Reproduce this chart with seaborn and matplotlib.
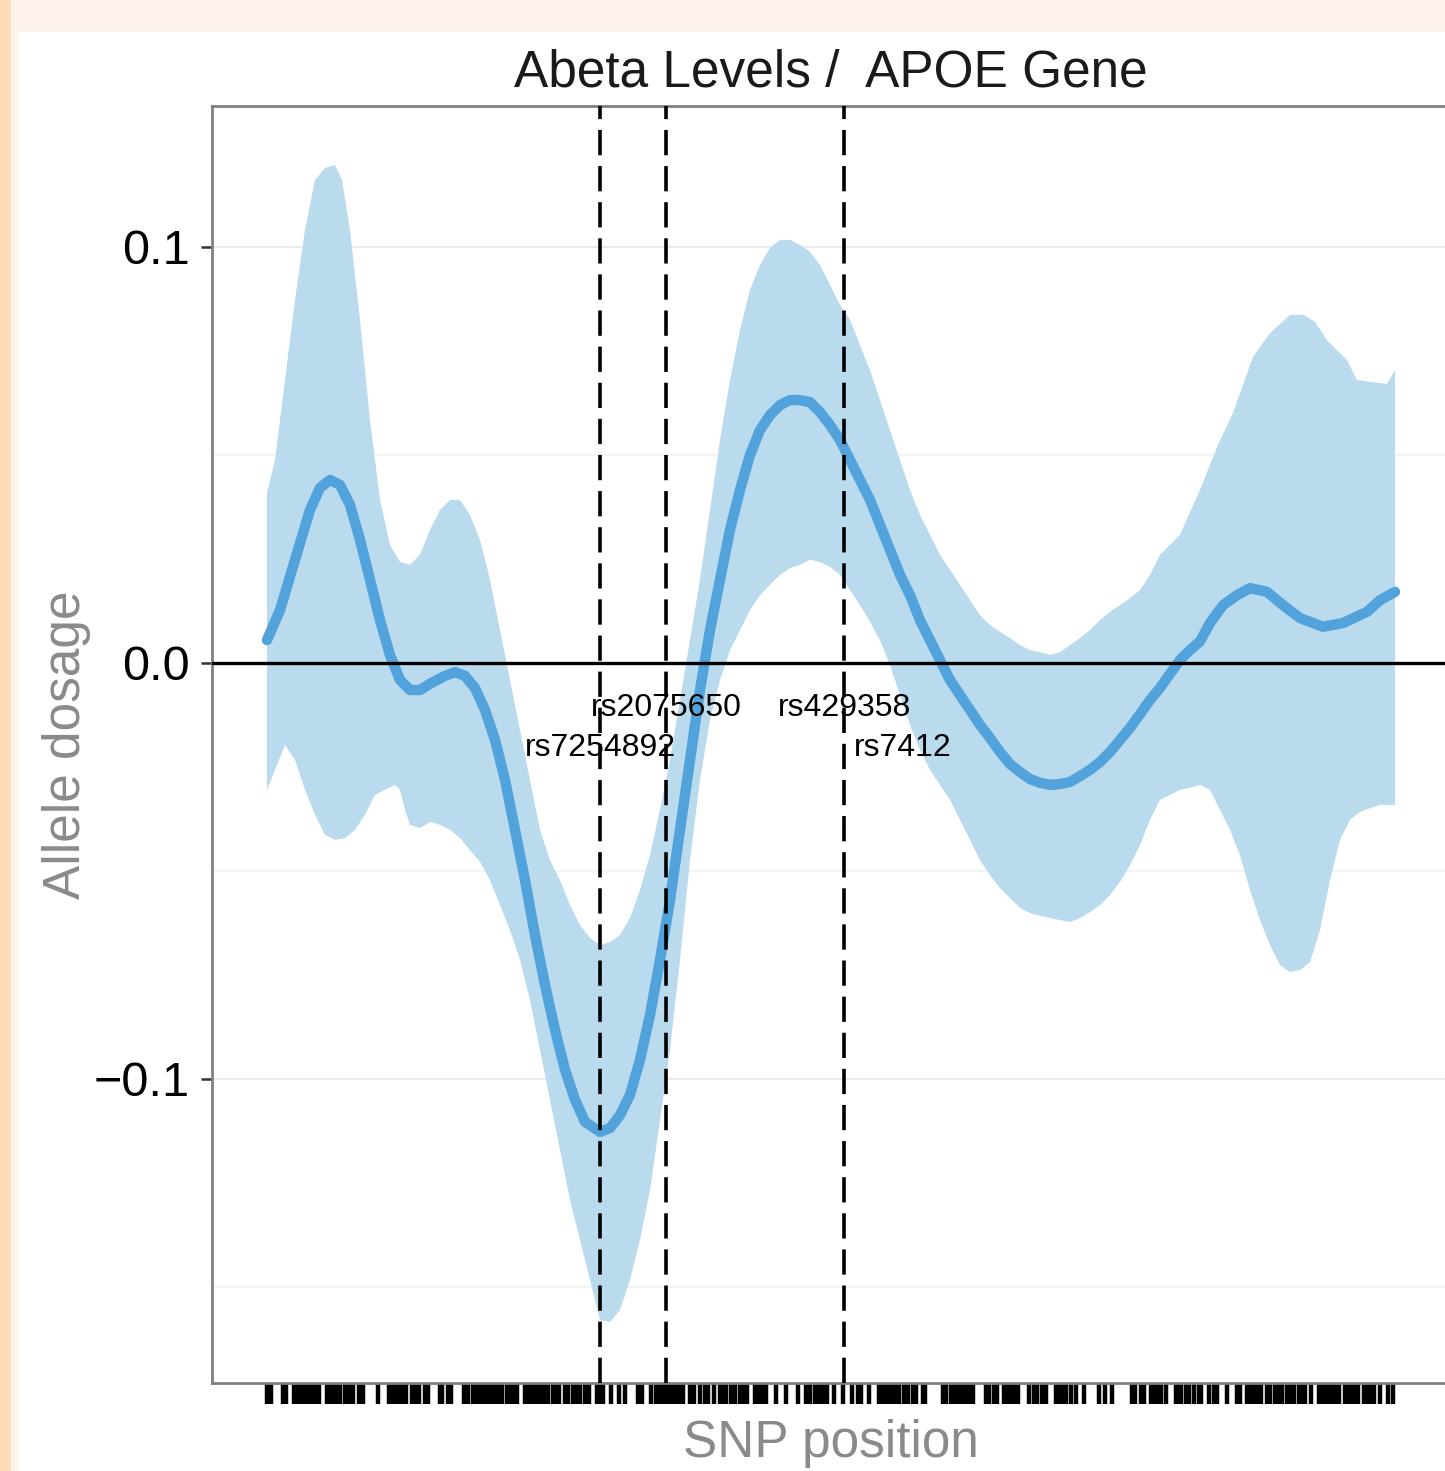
import numpy as np
import matplotlib
matplotlib.use("Agg")
import matplotlib.pyplot as plt
import seaborn as sns
from matplotlib.patches import Rectangle

# SNP position is an arbitrary relative position along the gene
mean_x = [0, 13, 28, 43, 53, 63, 73, 83, 93, 103, 113, 123, 133, 143, 153, 163, 178, 188, 198, 208,
          218, 228, 238, 248, 258, 268, 278, 288, 298, 308, 318, 333, 343, 353, 363, 373, 383, 393, 403, 413,
          423, 433, 443, 453, 463, 473, 483, 493, 503, 513, 523, 533, 543, 553, 563, 573, 583, 593, 603, 613,
          623, 633, 643, 653, 663, 673, 683, 693, 703, 713, 723, 733, 743, 753, 763, 773, 783, 793, 803, 813,
          823, 833, 843, 853, 863, 873, 883, 893, 903, 913, 923, 933, 943, 956, 970, 983, 1000, 1016, 1033, 1056,
          1076, 1100, 1113, 1128]
mean_y = [0.0055, 0.0127, 0.0248, 0.0368, 0.0421, 0.0440, 0.0428, 0.0380, 0.0296, 0.0200, 0.0103, 0.0019,
          -0.0041, -0.0065, -0.0065, -0.0050, -0.0031, -0.0022, -0.0031, -0.0060, -0.0113, -0.0185, -0.0281,
          -0.0401, -0.0522, -0.0654, -0.0774, -0.0882, -0.0978, -0.1050, -0.1103, -0.1127, -0.1118, -0.1087,
          -0.1038, -0.0954, -0.0846, -0.0714, -0.0570, -0.0401, -0.0233, -0.0065, 0.0079, 0.0200, 0.0320,
          0.0416, 0.0500, 0.0560, 0.0596, 0.0620, 0.0632, 0.0632, 0.0627, 0.0603, 0.0572, 0.0536, 0.0488,
          0.0440, 0.0392, 0.0332, 0.0272, 0.0212, 0.0163, 0.0103, 0.0055, 0.0007, -0.0041, -0.0077, -0.0113,
          -0.0149, -0.0180, -0.0214, -0.0243, -0.0262, -0.0279, -0.0288, -0.0293, -0.0291, -0.0286, -0.0272,
          -0.0257, -0.0238, -0.0214, -0.0185, -0.0156, -0.0123, -0.0089, -0.0060, -0.0026, 0.0007, 0.0031,
          0.0052, 0.0096, 0.0139, 0.0163, 0.0180, 0.0171, 0.0139, 0.0108, 0.0087, 0.0096, 0.0123, 0.0151,
          0.0171]

upper_x = [0, 8, 18, 28, 38, 48, 58, 68, 75, 83, 93, 103, 113, 123, 133, 143, 153, 163, 173, 183, 193, 203,
           213, 223, 233, 243, 253, 263, 273, 283, 293, 303, 313, 323, 333, 343, 353, 363, 373, 383, 393, 403,
           413, 423, 433, 443, 453, 463, 473, 483, 493, 503, 513, 523, 533, 543, 553, 563, 573, 583, 593, 603,
           613, 623, 633, 643, 653, 663, 673, 683, 693, 703, 713, 723, 733, 743, 753, 763, 773, 783, 793, 803,
           813, 823, 833, 843, 853, 863, 873, 883, 893, 913, 933, 950, 966, 986, 1003, 1023, 1036, 1048, 1060,
           1080, 1090, 1106, 1120, 1128]
upper_y = [0.0409, 0.0488, 0.0680, 0.0873, 0.1041, 0.1161, 0.1190, 0.1197, 0.1161, 0.1041, 0.0825, 0.0584,
           0.0392, 0.0284, 0.0243, 0.0236, 0.0260, 0.0320, 0.0368, 0.0392, 0.0392, 0.0356, 0.0296, 0.0200,
           0.0079, -0.0041, -0.0161, -0.0281, -0.0401, -0.0474, -0.0522, -0.0582, -0.0630, -0.0661, -0.0678,
           -0.0671, -0.0654, -0.0613, -0.0546, -0.0462, -0.0353, -0.0233, -0.0089, 0.0055, 0.0200, 0.0368,
           0.0536, 0.0680, 0.0800, 0.0897, 0.0957, 0.0998, 0.1017, 0.1017, 0.1005, 0.0988, 0.0957, 0.0909,
           0.0861, 0.0825, 0.0764, 0.0704, 0.0632, 0.0560, 0.0488, 0.0416, 0.0356, 0.0308, 0.0260, 0.0224,
           0.0188, 0.0151, 0.0115, 0.0091, 0.0075, 0.0060, 0.0043, 0.0031, 0.0026, 0.0019, 0.0026, 0.0043,
           0.0060, 0.0079, 0.0103, 0.0123, 0.0139, 0.0156, 0.0175, 0.0212, 0.0260, 0.0308, 0.0416, 0.0519,
           0.0601, 0.0736, 0.0793, 0.0837, 0.0837, 0.0820, 0.0776, 0.0728, 0.0680, 0.0675, 0.0671, 0.0704]

lower_x = [0, 8, 18, 28, 38, 48, 58, 68, 78, 88, 98, 108, 118, 128, 133, 138, 143, 153, 163, 173, 183, 193,
           203, 213, 223, 233, 243, 253, 263, 273, 283, 293, 303, 313, 323, 333, 343, 353, 363, 373, 383, 393,
           403, 413, 423, 433, 443, 453, 463, 473, 483, 493, 503, 513, 523, 533, 543, 553, 563, 573, 583, 593,
           603, 613, 623, 633, 643, 653, 663, 673, 683, 693, 703, 713, 723, 733, 743, 753, 763, 773, 783, 793,
           803, 813, 823, 833, 843, 853, 863, 873, 883, 893, 903, 913, 923, 933, 943, 953, 963, 973, 983, 993,
           1003, 1013, 1023, 1033, 1043, 1053, 1063, 1073, 1083, 1093, 1103, 1113, 1128]
lower_y = [-0.0305, -0.0257, -0.0197, -0.0233, -0.0305, -0.0365, -0.0413, -0.0425, -0.0421, -0.0401, -0.0365,
           -0.0317, -0.0305, -0.0293, -0.0305, -0.0353, -0.0389, -0.0397, -0.0382, -0.0389, -0.0401, -0.0421,
           -0.0450, -0.0478, -0.0522, -0.0582, -0.0642, -0.0714, -0.0810, -0.0930, -0.1050, -0.1171, -0.1291,
           -0.1387, -0.1483, -0.1579, -0.1584, -0.1555, -0.1483, -0.1387, -0.1267, -0.1099, -0.0930, -0.0714,
           -0.0474, -0.0281, -0.0137, -0.0041, 0.0031, 0.0079, 0.0127, 0.0163, 0.0188, 0.0212, 0.0228, 0.0236,
           0.0248, 0.0243, 0.0231, 0.0212, 0.0175, 0.0139, 0.0099, 0.0055, -0.0005, -0.0077, -0.0149, -0.0209,
           -0.0257, -0.0293, -0.0329, -0.0377, -0.0425, -0.0474, -0.0510, -0.0541, -0.0565, -0.0589, -0.0601,
           -0.0608, -0.0613, -0.0618, -0.0623, -0.0613, -0.0599, -0.0582, -0.0558, -0.0526, -0.0486, -0.0438,
           -0.0377, -0.0329, -0.0317, -0.0305, -0.0300, -0.0293, -0.0305, -0.0353, -0.0401, -0.0462, -0.0546,
           -0.0618, -0.0678, -0.0726, -0.0743, -0.0738, -0.0719, -0.0642, -0.0522, -0.0425, -0.0377, -0.0358,
           -0.0349, -0.0341, -0.0341]

# positions of all SNPs (rug)
snp_rug = [0, 4, 16, 19, 27, 30, 33, 37, 40, 44, 48, 52, 60, 63, 67, 70, 73, 78, 82, 86, 92, 96, 111, 122,
           125, 128, 132, 135, 139, 145, 149, 152, 158, 161, 173, 175, 181, 184,
           197, 201, 206, 209, 212, 215, 218, 221, 225, 227, 231, 235, 240, 243, 246, 250, 258, 261, 265, 268,
           271, 275, 278, 281, 286, 290, 292, 298, 301, 306, 310, 313, 318, 322, 330, 332, 336, 344, 352, 358,
           371,
           375, 384, 389, 393, 396, 399, 403, 406, 409, 413, 416, 423, 427, 433, 438, 441, 447, 453, 456, 459,
           464, 468, 473, 476, 480, 488, 492, 495, 499, 509, 519, 531, 539, 543, 548, 552, 556, 560,
           567, 576, 585, 591, 594, 602, 612, 616, 619, 622, 626, 629, 632, 637, 641, 646, 649, 656, 658, 676,
           679, 684, 687, 691, 694, 697, 700, 704, 706, 719, 722, 727, 730, 737, 741, 744, 747,
           751, 762, 767, 770, 775, 779, 789, 792, 795, 799, 804, 809, 817, 832, 838, 845, 865, 868, 874, 877,
           884, 886, 890, 894, 899, 909, 912, 914, 919, 922, 927, 932, 934,
           942, 947, 950, 960, 970, 973, 980, 983, 987, 990, 994, 1000, 1003, 1008, 1012, 1015, 1020, 1023,
           1027, 1032, 1035, 1038, 1044, 1052, 1055, 1058, 1062, 1065, 1068, 1072, 1078, 1082, 1084, 1088,
           1091, 1097, 1099, 1103, 1107, 1113, 1121, 1126]

# highlighted SNPs
snp_names = ["rs7254892", "rs2075650", "rs429358", "rs7412"]
snp_pos = [333, 399, 577, 577]
label_x = [333, 399, 577, 636]
label_y = [-0.0204, -0.0108, -0.0108, -0.0204]

line_color = "#52A3DB"
band_color = "#BADAEE"

sns.set_style("white")
plt.rcParams["font.family"] = ["Liberation Sans", "DejaVu Sans"]

fig = plt.figure(figsize=(14.45, 14.71), dpi=100, facecolor="white")
# page decoration
fig.patches.append(Rectangle((0, 1 - 32 / 1471), 1, 32 / 1471, transform=fig.transFigure,
                             facecolor="#FDF3EC", edgecolor="none", zorder=0))
fig.patches.append(Rectangle((11 / 1445, 0), 7 / 1445, 1, transform=fig.transFigure,
                             facecolor="#FDF3EC", edgecolor="none", zorder=0))
fig.patches.append(Rectangle((0, 0), 11 / 1445, 1, transform=fig.transFigure,
                             facecolor="#FFDAB6", edgecolor="none", zorder=0))

ax = fig.add_axes([212 / 1445, 88 / 1471, 1238 / 1445, 1277 / 1471])

ax.fill(np.r_[upper_x, lower_x[::-1]], np.r_[upper_y, lower_y[::-1]],
        color=band_color, linewidth=0, zorder=2)
sns.lineplot(x=mean_x, y=mean_y, ax=ax, color=line_color, linewidth=7.5, zorder=3)

ax.axhline(0, color="black", linewidth=2.4, zorder=4)
for pos in sorted(set(snp_pos)):
    ax.axvline(pos, color="black", linewidth=2.6, linestyle=(0, (7, 3)), zorder=5)
for name, lx, ly in zip(snp_names, label_x, label_y):
    ax.text(lx, ly, name, ha="center", va="center", fontsize=23, color="black", zorder=6)

sns.rugplot(x=snp_rug, ax=ax, height=-0.0165, clip_on=False, color="black",
            linewidth=3.2, expand_margins=False)

ax.set_xlim(-55, 1183)
ax.set_ylim(-0.17308, 0.13389)
ax.set_yticks([-0.1, 0.0, 0.1])
ax.set_yticklabels(["\u22120.1", "0.0", "0.1"])
ax.set_yticks([-0.15, -0.05, 0.05], minor=True)
ax.set_xticks([])
ax.grid(True, which="major", axis="y", color="#EBEBEB", linewidth=1.5, zorder=0)
ax.grid(True, which="minor", axis="y", color="#F4F4F4", linewidth=1.5, zorder=0)
ax.tick_params(axis="y", which="major", labelsize=35, length=8, width=1.8, color="#333333",
               pad=8, left=True, labelcolor="black")
ax.tick_params(axis="y", which="minor", length=0)

for side in ["top", "left", "bottom"]:
    ax.spines[side].set_color("#808080")
    ax.spines[side].set_linewidth(2)
ax.spines["right"].set_visible(False)

ax.set_title("Abeta Levels /  APOE Gene", fontsize=37, color="#1A1A1A", pad=14)
ax.set_xlabel("SNP position", fontsize=37, color="#8A8A8A")
ax.set_ylabel("Allele dosage", fontsize=37, color="#8A8A8A")
ax.xaxis.set_label_coords(0.5, -0.028)
ax.yaxis.set_label_coords(-0.0975, 0.5)

fig.savefig("out.png", dpi=100, facecolor=fig.get_facecolor())
